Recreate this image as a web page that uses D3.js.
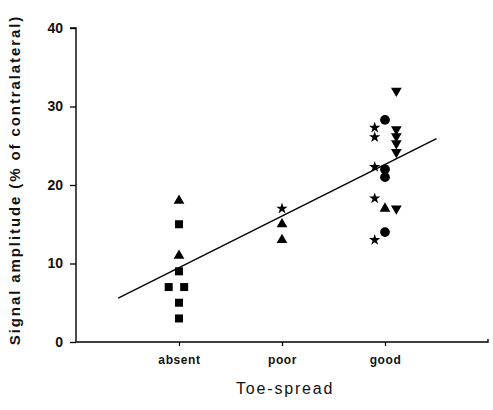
<!DOCTYPE html>
<html>
<head>
<meta charset="utf-8">
<script src="https://cdn.jsdelivr.net/npm/d3@7"></script>
<style>
  body { margin: 0; background: #fff; }
  svg { display: block; font-family: "Liberation Sans", Arial, sans-serif; }
</style>
</head>
<body>
<svg id="chart"></svg>
<script>
// categories on the x axis (1 = absent, 2 = poor, 3 = good)
const categories = ["absent", "poor", "good"];
const yTicks = [0, 10, 20, 30, 40];

// points per marker type: [toe-spread position, signal amplitude]
const squares = [[1, 15], [1, 9], [0.9, 7], [1.05, 7], [1, 5], [1, 3]];
const triangles = [[1, 18], [1, 11], [2, 15], [2, 13], [3, 17]];
const stars = [[2, 17], [2.9, 27.3], [2.9, 26.1], [2.9, 22.3], [2.9, 18.3], [2.9, 13]];
const circles = [[3, 28.3], [3, 22], [3, 21], [3, 14]];
const downTriangles = [[3.11, 32], [3.11, 27.1], [3.11, 26.2], [3.11, 25.3], [3.11, 24.2], [3.11, 17]];

// regression line endpoints
const fitX = [0.41, 3.5];
const fitIntercept = 2.9, fitSlope = 6.57;

const W = 493, H = 410;
const margin = { top: 28, right: 5, bottom: 68, left: 76 };

const svg = d3.select("#chart").attr("width", W).attr("height", H);

const x = d3.scaleLinear().domain([0, 4]).range([margin.left, W - margin.right]);
const y = d3.scaleLinear().domain([0, 40]).range([H - margin.bottom, margin.top]);

// y axis
const yAxis = svg.append("g")
  .attr("transform", `translate(${margin.left},0)`)
  .call(d3.axisLeft(y).tickValues(yTicks).tickSize(6).tickPadding(7));
yAxis.select(".domain").attr("d", `M-6,${y(40)}H0V${y(0)}H0`).attr("stroke-width", 1.4);
yAxis.selectAll(".tick line").attr("stroke-width", 1.3);
yAxis.selectAll(".tick text")
  .attr("font-size", 14).attr("font-weight", "bold").attr("fill", "#111");

// x axis
const xAxis = svg.append("g")
  .attr("transform", `translate(0,${y(0)})`)
  .call(d3.axisBottom(x).tickValues([1, 2, 3]).tickFormat(d => categories[d - 1])
    .tickSize(4).tickPadding(9));
xAxis.select(".domain").attr("d", `M${x(0)},0H${x(4)}V-3`).attr("stroke-width", 1.4);
xAxis.selectAll(".tick line").attr("stroke-width", 1.2);
xAxis.selectAll(".tick text")
  .attr("font-size", 12).attr("font-weight", "bold").attr("fill", "#111")
  .attr("letter-spacing", 0.6);

// axis titles
svg.append("text")
  .attr("transform", `translate(20,${(y(0) + 10) / 2 + 4}) rotate(-90)`)
  .attr("text-anchor", "middle")
  .attr("font-size", 15).attr("font-weight", "bold").attr("letter-spacing", 1.9)
  .attr("fill", "#111")
  .text("Signal amplitude (% of contralateral)");

svg.append("text")
  .attr("x", x(2.03)).attr("y", 394)
  .attr("text-anchor", "middle")
  .attr("font-size", 16).attr("letter-spacing", 1.8)
  .attr("fill", "#111")
  .text("Toe-spread");

// regression line
svg.append("line")
  .attr("x1", x(fitX[0])).attr("y1", y(fitIntercept + fitSlope * fitX[0]))
  .attr("x2", x(fitX[1])).attr("y2", y(fitIntercept + fitSlope * fitX[1]))
  .attr("stroke", "#000").attr("stroke-width", 1.4);

// markers
function drawPoints(data, type, size, rotate) {
  svg.append("g").selectAll("path")
    .data(data)
    .enter()
    .append("path")
    .attr("d", d3.symbol().type(type).size(size))
    .attr("transform", d => `translate(${x(d[0])},${y(d[1])})${rotate ? " rotate(180)" : ""}`)
    .attr("fill", "#000");
}

drawPoints(squares, d3.symbolSquare, 64);
drawPoints(triangles, d3.symbolTriangle, 50);
drawPoints(downTriangles, d3.symbolTriangle, 50, true);
drawPoints(circles, d3.symbolCircle, 75);
drawPoints(stars, d3.symbolStar, 40);
</script>
</body>
</html>
